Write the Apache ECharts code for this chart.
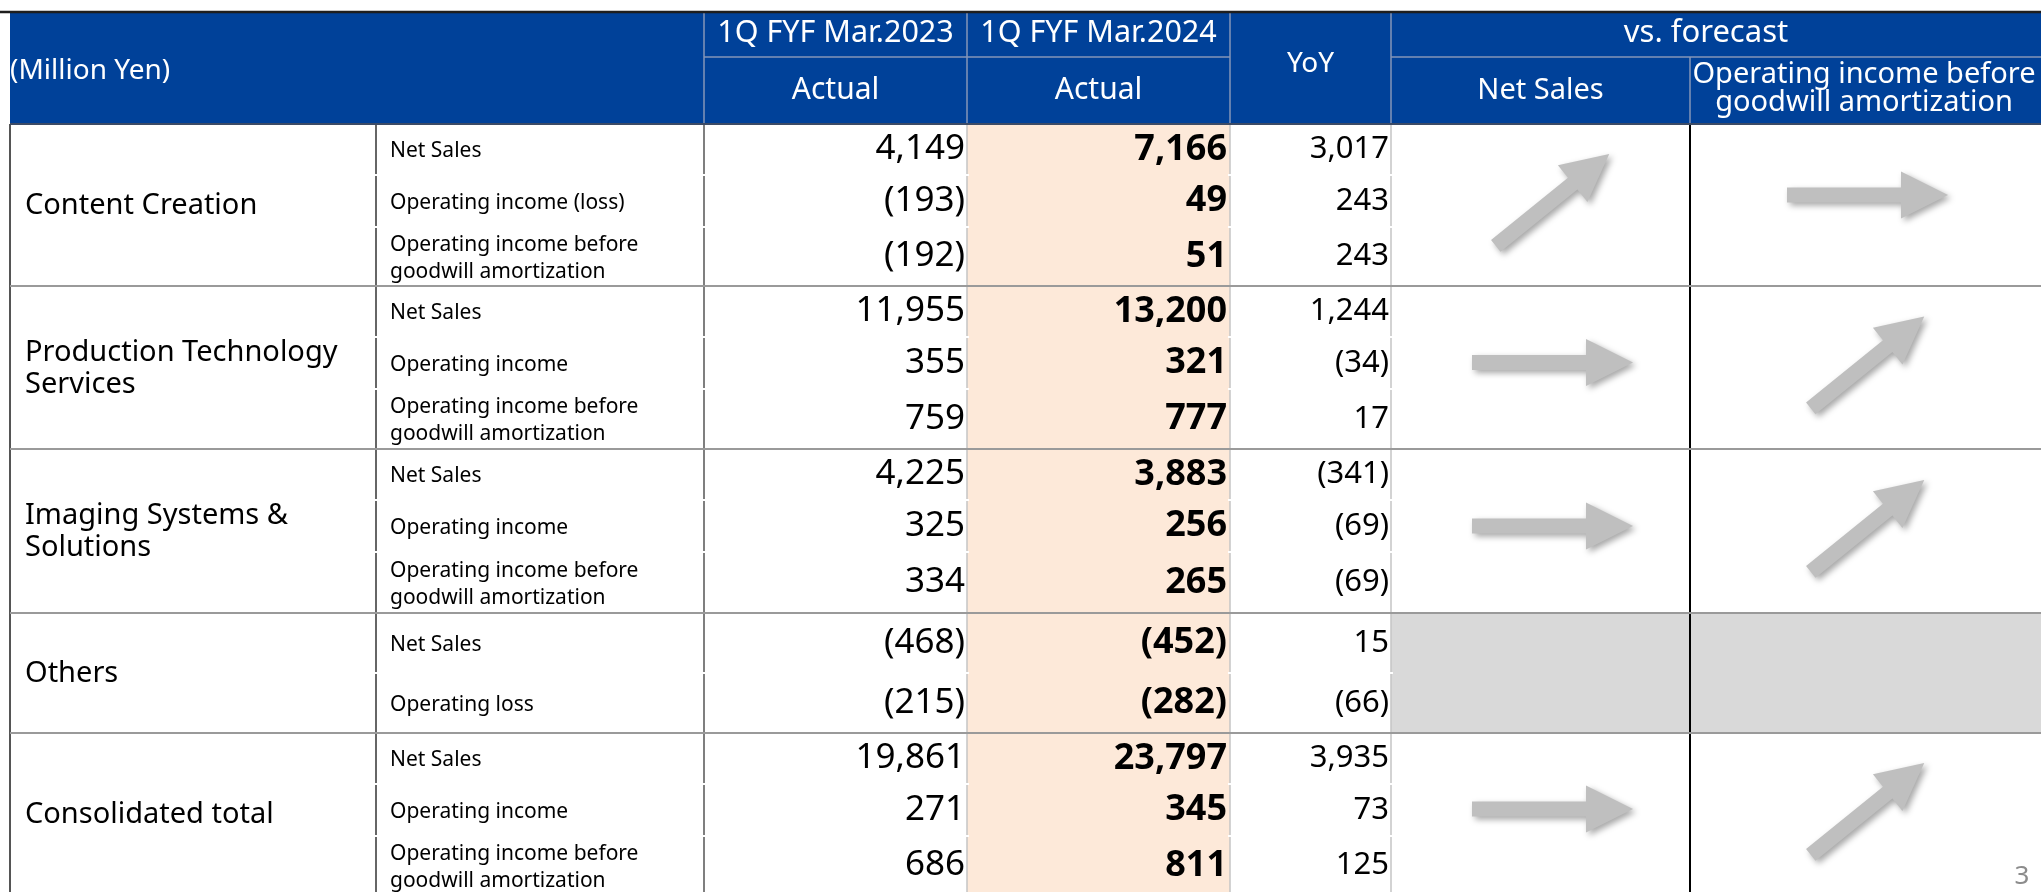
<!DOCTYPE html>
<html>
<head>
<meta charset="utf-8">
<script src="https://cdn.jsdelivr.net/npm/echarts@6/dist/echarts.min.js"></script>
<style>
  html, body { margin: 0; padding: 0; background: #fff; }
  #main { width: 2041px; height: 892px; }
</style>
</head>
<body>
<div id="main"></div>
<script>
// table data
const segments = ['Content Creation', 'Production Technology\nServices', 'Imaging Systems &\nSolutions', 'Others', 'Consolidated total'];
const segmentRows = [3, 3, 3, 2, 3];
const items = [
  'Net Sales', 'Operating income (loss)', 'Operating income before\ngoodwill amortization',
  'Net Sales', 'Operating income', 'Operating income before\ngoodwill amortization',
  'Net Sales', 'Operating income', 'Operating income before\ngoodwill amortization',
  'Net Sales', 'Operating loss',
  'Net Sales', 'Operating income', 'Operating income before\ngoodwill amortization'
];
const actual2023 = [4149, -193, -192, 11955, 355, 759, 4225, 325, 334, -468, -215, 19861, 271, 686];
const actual2024 = [7166, 49, 51, 13200, 321, 777, 3883, 256, 265, -452, -282, 23797, 345, 811];
const yoy = [3017, 243, 243, 1244, -34, 17, -341, -69, -69, 15, -66, 3935, 73, 125];
// vs. forecast trend per segment (null = not applicable)
const trendNetSales = ['up', 'right', 'right', null, 'right'];
const trendOpIncome = ['right', 'up', 'up', null, 'up'];
const headerPeriods = ['1Q FYF Mar.2023', '1Q FYF Mar.2024'];
const headerSub = ['Actual', 'Actual'];
const headerForecast = ['Net Sales', 'Operating income before\ngoodwill amortization'];
const pageNumber = '3';

// layout
const W = 2041, H = 892;
const colX = [10, 376, 704, 967, 1230, 1391, 1690, 2070];
const headTop = 12, headMid = 57, bodyTop = 124;
const groupH = [162, 163, 164, 120, 162];
const FONT = '"Noto Sans", "DejaVu Sans", sans-serif';
const BLUE = '#004199';

const groupTop = [];
const rowTop = [], rowH = [], rowGroup = [], rowFirst = [];
let y = bodyTop;
segmentRows.forEach((n, g) => {
  groupTop.push(y);
  const hs = n === 3 ? [51, 52, groupH[g] - 103] : [groupH[g] / 2, groupH[g] / 2];
  let ry = y;
  hs.forEach((h, k) => {
    rowTop.push(ry); rowH.push(h); rowGroup.push(g); rowFirst.push(k === 0);
    ry += h;
  });
  y += groupH[g];
});

function fmt(v) {
  const s = Math.abs(v).toLocaleString('en-US');
  return v < 0 ? '(' + s + ')' : s;
}

function line(p1, p2, stroke, w, z2) {
  return { type: 'line', shape: { x1: p1[0], y1: p1[1], x2: p2[0], y2: p2[1] },
    style: { stroke: stroke, lineWidth: w }, z2: z2 || 5, silent: true };
}
function rect(p1, p2, fill, z2) {
  return { type: 'rect', shape: { x: p1[0], y: p1[1], width: p2[0] - p1[0], height: p2[1] - p1[1] },
    style: { fill: fill }, z2: z2 || 0, silent: true };
}
function text(p, str, opt) {
  return { type: 'text', x: p[0], y: p[1], z2: 10, silent: true,
    style: Object.assign({ text: str, fill: '#000', fontFamily: FONT, fontSize: 28,
      align: 'left', verticalAlign: 'middle' }, opt) };
}
function arrow(p, kind) {
  const L = kind === 'up' ? 146 : 161, t = 15, h = 47, w = 23.5;
  const pts = [[-L / 2, -t / 2], [L / 2 - h, -t / 2], [L / 2 - h, -w], [L / 2, 0],
    [L / 2 - h, w], [L / 2 - h, t / 2], [-L / 2, t / 2]];
  return { type: 'polygon', x: p[0], y: p[1], rotation: kind === 'up' ? 39 * Math.PI / 180 : 0,
    shape: { points: pts }, z2: 8, silent: true,
    style: { fill: '#BFBFBF', shadowBlur: 6, shadowColor: 'rgba(0,0,0,0.35)', shadowOffsetX: 3, shadowOffsetY: 3 } };
}

function renderHeader(params, api) {
  const c = (a, b) => api.coord([a, b]);
  const lc = '#8596B8';
  const ch = [
    rect(c(colX[0], headTop), c(W + 30, bodyTop), BLUE, 0),
    line(c(colX[2], headMid), c(colX[4], headMid), lc, 1.5),
    line(c(colX[5], headMid), c(W + 30, headMid), lc, 1.5),
    line(c(colX[6], headMid), c(colX[6], bodyTop), lc, 1.5),
    line(c(0, headTop), c(W + 30, headTop), '#1E1E1E', 2.5, 6),
    line(c(colX[0], bodyTop), c(W + 30, bodyTop), '#3C4B66', 2, 6),
    text(c(colX[0], 71), '(Million Yen)', { fill: '#fff' }),
    text(c((colX[4] + colX[5]) / 2, 64), 'YoY', { fill: '#fff', align: 'center' }),
    text(c(1706, 33), 'vs. forecast', { fill: '#fff', align: 'center', fontSize: 31 }),
    text(c((colX[5] + colX[6]) / 2, 90.5), headerForecast[0], { fill: '#fff', align: 'center', fontSize: 29 }),
    text(c(1864, 89), headerForecast[1], { fill: '#fff', align: 'center', fontSize: 29, lineHeight: 28 })
  ];
  [2, 3, 4, 5].forEach(i => ch.push(line(c(colX[i], headTop), c(colX[i], bodyTop), lc, 1.5)));
  headerPeriods.forEach((s, i) => {
    const cx = (colX[2 + i] + colX[3 + i]) / 2;
    ch.push(text(c(cx, 33), s, { fill: '#fff', align: 'center', fontSize: 30.5 }));
    ch.push(text(c(cx, 90.5), headerSub[i], { fill: '#fff', align: 'center', fontSize: 30 }));
  });
  ch.push(text(c(2022, 877), pageNumber, { fill: '#8C8C8C', fontSize: 26, align: 'center', z2: 12 }));
  return { type: 'group', children: ch };
}

function renderSegment(params, api) {
  const g = api.value(0);
  const top = groupTop[g], bot = top + groupH[g];
  const c = (a, b) => api.coord([a, b]);
  const ch = [rect(c(colX[3], top), c(colX[4], bot), '#FDE9D9', 0)];
  if (trendNetSales[g] === null) ch.push(rect(c(colX[5], top), c(W + 30, bot), '#D9D9D9', 0));
  const vcol = [['#555', 2], ['#333', 1.5], ['#555', 1.5], ['#C4C4C4', 1.5], ['#C4C4C4', 1.5], ['#C4C4C4', 1.5], ['#000', 2]];
  vcol.forEach((v, i) => ch.push(line(c(colX[i], top), c(colX[i], bot), v[0], v[1], 5)));
  ch.push(line(c(colX[0], bot), c(W + 30, bot), '#9A9A9A', 2, 7));
  const mid = (top + bot) / 2;
  ch.push(text(c(25, mid + 1), segments[g], { fontSize: 29, lineHeight: 32 }));
  if (trendNetSales[g]) ch.push(arrow(c((colX[5] + colX[6]) / 2 + 12, mid - 5), trendNetSales[g]));
  if (trendOpIncome[g]) ch.push(arrow(c((colX[6] + W) / 2 + 2, mid - (trendOpIncome[g] === 'right' ? 10 : 5)), trendOpIncome[g]));
  return { type: 'group', children: ch };
}

function renderRow(params, api) {
  const r = api.value(0);
  const top = rowTop[r], mid = top + rowH[r] / 2;
  const c = (a, b) => api.coord([a, b]);
  const ch = [
    text(c(colX[1] + 14, mid + 2), items[r], { fontSize: 21, lineHeight: 27 }),
    text(c(colX[3] - 2, mid), fmt(actual2023[r]), { fontSize: 35, align: 'right' }),
    text(c(colX[4] - 3, mid), fmt(actual2024[r]), { fontSize: 36, fontWeight: 'bold', align: 'right' }),
    text(c(colX[5] - 2, mid), fmt(yoy[r]), { fontSize: 31, align: 'right' })
  ];
  if (!rowFirst[r]) {
    ch.push(line(c(colX[1] - 2, top), c(colX[3] + 2, top), '#fff', 2, 6));
    ch.push(line(c(colX[4] - 2, top), c(colX[5] + 2, top), '#fff', 2, 6));
  }
  return { type: 'group', children: ch };
}

const chart = echarts.init(document.getElementById('main'), null, { renderer: 'canvas' });
chart.setOption({
  animation: false,
  backgroundColor: '#fff',
  grid: { left: 0, right: 0, top: 0, bottom: 0 },
  xAxis: { type: 'value', min: 0, max: W, show: false },
  yAxis: { type: 'value', min: 0, max: H, inverse: true, show: false },
  series: [
    { type: 'custom', name: 'header', data: [[0, 0]], renderItem: renderHeader, encode: { x: 0, y: 1 } },
    { type: 'custom', name: 'segments', data: segments.map((s, i) => [i, 0]), renderItem: renderSegment, encode: { x: 0, y: 1 } },
    { type: 'custom', name: 'rows', data: items.map((s, i) => [i, 0]), renderItem: renderRow, encode: { x: 0, y: 1 } }
  ]
});
</script>
</body>
</html>
